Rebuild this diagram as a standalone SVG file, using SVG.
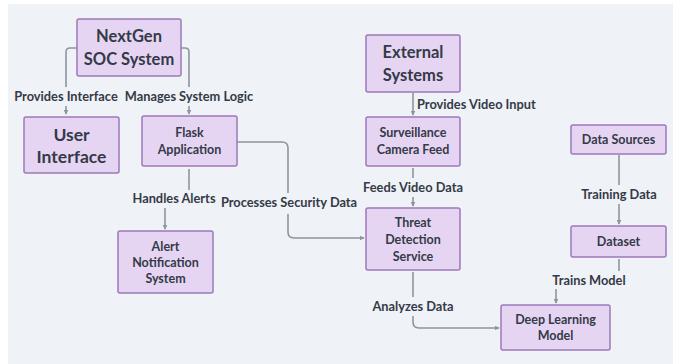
<svg xmlns="http://www.w3.org/2000/svg" width="673" height="364" viewBox="0 0 673 364">
<style>
.n{fill:#e6d5f2;stroke:#9f78bb;stroke-width:1.5}
.t{font-family:Lato,"Liberation Sans",sans-serif;font-weight:700;fill:#343a47;text-anchor:middle}
.big{font-size:16.5px}
.sm{font-size:12.5px}
.lb{font-family:Lato,"Liberation Sans",sans-serif;font-weight:700;fill:#343a47;font-size:12.8px;text-anchor:middle}
.c{fill:none;stroke:#8c96a0;stroke-width:1.6}
</style>
<defs>
<marker id="ah" viewBox="0 0 8 8" refX="7" refY="4" markerWidth="5" markerHeight="5" orient="auto" markerUnits="userSpaceOnUse">
<path d="M0,0L8,4L0,8z" fill="#8c96a0"/>
</marker>
</defs>
<rect x="0" y="0" width="673" height="364" fill="#ffffff"/>
<rect x="8" y="4" width="665" height="360" fill="#eff2f6"/>
<g id="connectors">
<path class="c" d="M77,48H70Q66,48 66,52V87"/>
<path class="c" d="M66,106V114" marker-end="url(#ah)"/>
<path class="c" d="M181,48H185Q189,48 189,52V87"/>
<path class="c" d="M189,106V114" marker-end="url(#ah)"/>
<path class="c" d="M189,169V190"/>
<path class="c" d="M165,208V229" marker-end="url(#ah)"/>
<path class="c" d="M237,142H282Q288,142 288,148V193"/>
<path class="c" d="M288,214V232Q288,238 294,238H364" marker-end="url(#ah)"/>
<path class="c" d="M413,93V115" marker-end="url(#ah)"/>
<path class="c" d="M413,168V178"/>
<path class="c" d="M413,197V206" marker-end="url(#ah)"/>
<path class="c" d="M619,155V185"/>
<path class="c" d="M619,204V224" marker-end="url(#ah)"/>
<path class="c" d="M619,259V271"/>
<path class="c" d="M556,289V303" marker-end="url(#ah)"/>
<path class="c" d="M413,272V297"/>
<path class="c" d="M413,316V322Q413,328 419,328H499" marker-end="url(#ah)"/>
<text class="lb" x="66" y="101">Provides Interface</text>
<text class="lb" x="189" y="101">Manages System Logic</text>
<text class="lb" x="174" y="203">Handles Alerts</text>
<text class="lb" x="289" y="207">Processes Security Data</text>
<text class="lb" x="417" y="109" style="text-anchor:start">Provides Video Input</text>
<text class="lb" x="413" y="192">Feeds Video Data</text>
<text class="lb" x="619" y="199">Training Data</text>
<text class="lb" x="589" y="285">Trains Model</text>
<text class="lb" x="413" y="311">Analyzes Data</text>
</g>
<g id="nextgen"><rect class="n" x="77" y="19" width="104" height="57" rx="2"/>
<text class="t big" x="129" y="42">NextGen</text><text class="t big" x="129" y="65">SOC System</text></g>
<g id="userinterface"><rect class="n" x="24" y="117" width="95" height="56" rx="2"/>
<text class="t big" x="71.5" y="141" style="font-size:17.5px">User</text><text class="t big" x="71.5" y="163" style="font-size:17.5px">Interface</text></g>
<g id="flask"><rect class="n" x="142" y="116" width="95" height="50" rx="2"/>
<text class="t sm" x="189.5" y="137">Flask</text><text class="t sm" x="189.5" y="154">Application</text></g>
<g id="alert"><rect class="n" x="118" y="231" width="95" height="62" rx="2"/>
<text class="t sm" x="165.5" y="251">Alert</text><text class="t sm" x="165.5" y="267">Notification</text><text class="t sm" x="165.5" y="283">System</text></g>
<g id="external"><rect class="n" x="366" y="35" width="94" height="57" rx="2"/>
<text class="t big" x="413" y="58">External</text><text class="t big" x="413" y="81">Systems</text></g>
<g id="camera"><rect class="n" x="366" y="117" width="94" height="49" rx="2"/>
<text class="t sm" x="413" y="137">Surveillance</text><text class="t sm" x="413" y="154">Camera Feed</text></g>
<g id="threat"><rect class="n" x="366" y="208" width="94" height="62" rx="2"/>
<text class="t sm" x="413" y="227">Threat</text><text class="t sm" x="413" y="244">Detection</text><text class="t sm" x="413" y="261">Service</text></g>
<g id="datasources"><rect class="n" x="571" y="125" width="95" height="29" rx="2"/>
<text class="t sm" x="618.5" y="144">Data Sources</text></g>
<g id="dataset"><rect class="n" x="571" y="226" width="95" height="31" rx="2"/>
<text class="t sm" x="618.5" y="246">Dataset</text></g>
<g id="deeplearning"><rect class="n" x="501" y="305" width="109" height="45" rx="2"/>
<text class="t sm" x="555.5" y="324">Deep Learning</text><text class="t sm" x="555.5" y="340">Model</text></g>
</svg>
